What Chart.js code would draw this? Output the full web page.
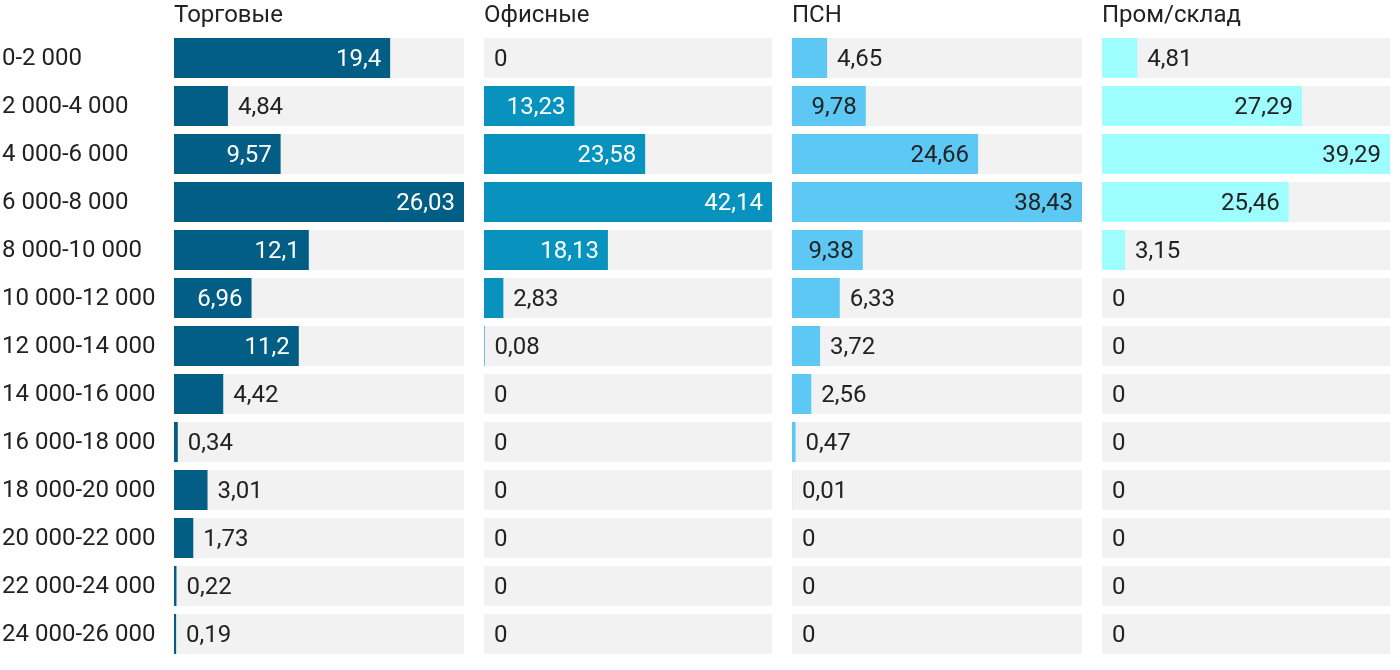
<!DOCTYPE html>
<html>
<head>
<meta charset="utf-8">
<script src="https://cdn.jsdelivr.net/npm/chart.js@4"></script>
<style>
  body { margin: 0; background: #fff; }
  #wrap { position: relative; width: 1400px; height: 670px; }
  .panel { position: absolute; top: 0; height: 670px; }
</style>
</head>
<body>
<div id="wrap">
  <div class="panel" style="left:0;width:464px"><canvas id="c1"></canvas></div>
  <div class="panel" style="left:484px;width:288px"><canvas id="c2"></canvas></div>
  <div class="panel" style="left:792px;width:290px"><canvas id="c3"></canvas></div>
  <div class="panel" style="left:1102px;width:288px"><canvas id="c4"></canvas></div>
</div>
<script>
// --------------------------
// Data
// --------------------------
const ranges = [
  "0-2 000", "2 000-4 000", "4 000-6 000", "6 000-8 000", "8 000-10 000",
  "10 000-12 000", "12 000-14 000", "14 000-16 000", "16 000-18 000",
  "18 000-20 000", "20 000-22 000", "22 000-24 000", "24 000-26 000",
];
const titles = ["Торговые", "Офисные", "ПСН", "Пром/склад"];
const torgovye = [19.4, 4.84, 9.57, 26.03, 12.1, 6.96, 11.2, 4.42, 0.34, 3.01, 1.73, 0.22, 0.19];
const ofisnye = [0, 13.23, 23.58, 42.14, 18.13, 2.83, 0.08, 0, 0, 0, 0, 0, 0];
const psn = [4.65, 9.78, 24.66, 38.43, 9.38, 6.33, 3.72, 2.56, 0.47, 0.01, 0, 0, 0];
const promSklad = [4.81, 27.29, 39.29, 25.46, 3.15, 0, 0, 0, 0, 0, 0, 0, 0];

const barColors = ["#035e86", "#0893bf", "#5cc8f3", "#9dfdff"];
const insideText = ["#ffffff", "#ffffff", "#222222", "#222222"];
const FONT = "Roboto";

// --------------------------
// Value labels plugin
// --------------------------
const valueLabels = {
  id: "valueLabels",
  afterDatasetsDraw(chart, args, opts) {
    const ctx = chart.ctx;
    const meta = chart.getDatasetMeta(0);
    const values = chart.data.datasets[0].data;
    ctx.save();
    ctx.font = "24px " + FONT;
    ctx.textBaseline = "middle";
    meta.data.forEach((bar, i) => {
      const text = String(values[i]).replace(".", ",");
      const tw = ctx.measureText(text).width;
      const w = bar.x - bar.base;
      if (w >= tw + 10) {
        ctx.fillStyle = opts.inside;
        ctx.textAlign = "right";
        ctx.fillText(text, bar.x - 9, bar.y + 2);
      } else {
        ctx.fillStyle = "#222222";
        ctx.textAlign = "left";
        ctx.fillText(text, Math.max(bar.x, bar.base) + 10, bar.y + 2);
      }
    });
    ctx.restore();
  },
};

// --------------------------
// Panels
// --------------------------
function makePanel(id, idx, values, showLabels) {
  const max = Math.max(...values);
  return new Chart(document.getElementById(id), {
    type: "bar",
    data: {
      labels: ranges,
      datasets: [
        {
          data: values,
          backgroundColor: barColors[idx],
          barPercentage: 0.833,
          categoryPercentage: 1,
          grouped: false,
          order: 0,
        },
        {
          data: values.map(() => max),
          backgroundColor: "#f2f2f2",
          barPercentage: 0.833,
          categoryPercentage: 1,
          grouped: false,
          order: 1,
        },
      ],
    },
    options: {
      indexAxis: "y",
      responsive: true,
      maintainAspectRatio: false,
      animation: false,
      layout: { padding: { top: 0, bottom: 12, left: showLabels ? 2 : 0, right: 0 } },
      scales: {
        x: { display: false, min: 0, max: max },
        y: {
          display: showLabels,
          grid: { display: false },
          border: { display: false },
          ticks: {
            crossAlign: "far",
            color: "#222222",
            padding: 0,
            labelOffset: 1,
            font: { family: FONT, size: 24, lineHeight: 1 },
          },
          afterFit(scale) { if (showLabels) scale.width = 172; },
        },
      },
      plugins: {
        legend: { display: false },
        tooltip: { enabled: false },
        title: {
          display: true,
          fullSize: false,
          text: titles[idx],
          align: "start",
          color: "#222222",
          font: { family: FONT, size: 24, weight: "normal", lineHeight: "28px" },
          padding: { top: 2, bottom: 4 },
        },
        valueLabels: { inside: insideText[idx] },
      },
    },
    plugins: [valueLabels],
  });
}

makePanel("c1", 0, torgovye, true);
makePanel("c2", 1, ofisnye, false);
makePanel("c3", 2, psn, false);
makePanel("c4", 3, promSklad, false);
</script>
</body>
</html>
